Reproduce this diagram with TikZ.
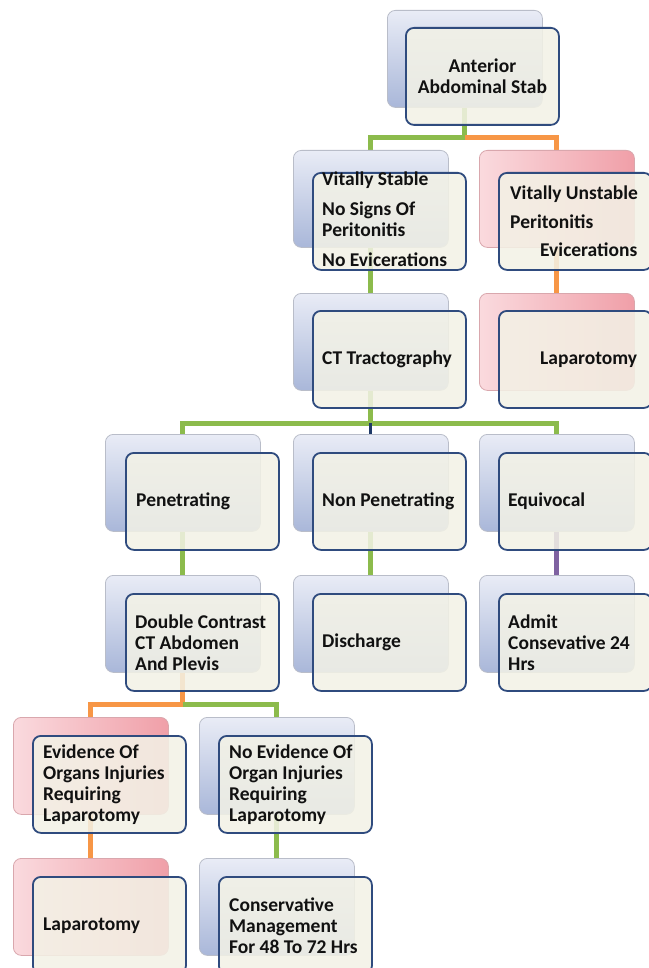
\documentclass[tikz,border=0pt]{standalone}
\usepackage{fontspec}
\setmainfont{Carlito}
\definecolor{bluetop}{HTML}{E9ECF6}
\definecolor{bluebot}{HTML}{A9B7D9}
\definecolor{bluebd}{HTML}{B9BDC9}
\definecolor{redtop}{HTML}{FADADE}
\definecolor{redbot}{HTML}{F09FA8}
\definecolor{redbd}{HTML}{D9A7AD}
\definecolor{cream}{HTML}{F3F2E6}
\definecolor{navy}{HTML}{2F4B7E}
\definecolor{lgreen}{HTML}{8CBB4C}
\definecolor{lorange}{HTML}{F79646}
\definecolor{lpurple}{HTML}{7F62A1}
\definecolor{ldark}{HTML}{1F3A68}
\definecolor{textc}{HTML}{111111}
\pgfdeclarelayer{bg}
\pgfsetlayers{bg,main}
\tikzset{
  backbox/.style={rectangle, rounded corners=8pt, minimum width=155pt, minimum height=97pt,
    anchor=north west, inner sep=0pt, line width=0.8pt},
  bluebk/.style={backbox, top color=bluetop, bottom color=bluebot, draw=bluebd},
  redbk/.style={backbox, shading angle=-120, left color=redtop, right color=redbot, draw=redbd},
  frontbox/.style={rectangle, rounded corners=8pt, draw=navy, line width=1.8pt, fill=cream,
    fill opacity=0.86, minimum width=153pt, minimum height=97pt, anchor=north west, inner sep=0pt},
  txt/.style={anchor=west, align=left, inner sep=0pt, text=textc,
    font=\bfseries\fontsize{19.5}{21}\selectfont},
  ctxt/.style={txt, anchor=center, align=center},
  gline/.style={draw=lgreen, line width=5pt},
  oline/.style={draw=lorange, line width=5pt},
  pline/.style={draw=lpurple, line width=5pt},
  nline/.style={draw=ldark, line width=3pt},
}
\begin{document}
\begin{tikzpicture}[x=1pt,y=-1pt]
\useasboundingbox (0,0) rectangle (648,968);
% row 0
\node[bluebk] (aB) at (387,10) {};
\node[frontbox] (a) at (405,27) {};
\node[ctxt] (ta) at (a.center) {Anterior\\Abdominal Stab};
% row 1
\node[bluebk] (sB) at (293,150) {};
\node[frontbox] (s) at (312,172) {};
\node[txt] (ts) at ([xshift=10pt,yshift=2pt]s.west) {Vitally Stable\\[9pt]No Signs Of\\Peritonitis\\[9pt]No Evicerations};
\node[redbk] (uB) at (479,150) {};
\node[frontbox] (u) at (498,172) {};
\node[txt] (tu) at ([xshift=12pt]u.west) {Vitally Unstable\\[7.5pt]Peritonitis\\[7.5pt]\hspace*{30pt}Evicerations};
% row 2
\node[bluebk] (ctB) at (293,293) {};
\node[frontbox] (ct) at (312,310) {};
\node[txt] (tct) at ([xshift=10pt]ct.west) {CT Tractography};
\node[redbk] (lpB) at (479,293) {};
\node[frontbox] (lp) at (498,310) {};
\node[txt] (tlp) at ([xshift=42pt]lp.west) {Laparotomy};
% row 3
\node[bluebk] (pB) at (105,434) {};
\node[frontbox] (p) at (125,452) {};
\node[txt] (tp) at ([xshift=11pt]p.west) {Penetrating};
\node[bluebk] (npB) at (293,434) {};
\node[frontbox] (np) at (312,452) {};
\node[txt] (tnp) at ([xshift=10pt]np.west) {Non Penetrating};
\node[bluebk] (eqB) at (479,434) {};
\node[frontbox] (eq) at (498,452) {};
\node[txt] (teq) at ([xshift=10pt]eq.west) {Equivocal};
% row 4
\node[bluebk] (dcB) at (105,575) {};
\node[frontbox] (dc) at (125,593) {};
\node[txt] (tdc) at ([xshift=10pt]dc.west) {Double Contrast\\CT Abdomen\\And Plevis};
\node[bluebk] (diB) at (293,575) {};
\node[frontbox] (di) at (312,593) {};
\node[txt] (tdi) at ([xshift=10pt]di.west) {Discharge};
\node[bluebk] (adB) at (479,575) {};
\node[frontbox] (ad) at (498,593) {};
\node[txt] (tad) at ([xshift=10pt]ad.west) {Admit\\Consevative 24\\Hrs};
% row 5
\node[redbk] (evB) at (13,717) {};
\node[frontbox] (ev) at (32,735) {};
\node[txt] (tev) at ([xshift=11pt]ev.west) {Evidence Of\\Organs Injuries\\Requiring\\Laparotomy};
\node[bluebk] (neB) at (199,717) {};
\node[frontbox] (ne) at (218,735) {};
\node[txt] (tne) at ([xshift=11pt]ne.west) {No Evidence Of\\Organ Injuries\\Requiring\\Laparotomy};
% row 6
\node[redbk] (l2B) at (13,858) {};
\node[frontbox] (l2) at (32,876) {};
\node[txt] (tl2) at ([xshift=11pt]l2.west) {Laparotomy};
\node[bluebk] (coB) at (199,858) {};
\node[frontbox] (co) at (218,876) {};
\node[txt] (tco) at ([xshift=11pt]co.west) {Conservative\\Management\\For 48 To 72 Hrs};
% connectors
\begin{pgfonlayer}{bg}
\fill[white] (0,0) rectangle (648,968);
\coordinate (j1) at (aB.south |- 0,138);
\coordinate (j2) at (ctB.south |- 0,423);
\coordinate (j3) at (dcB.south |- 0,704);
\draw[gline] (aB.south) -- (j1) -| (sB.north);
\draw[oline] (j1) -| (uB.north);
\draw[gline] (sB.south) -- (ctB.north);
\draw[oline] (uB.south) -- (lpB.north);
\draw[gline] (ctB.south) -- (j2) -| (pB.north);
\draw[gline] (j2) -| (eqB.north);
\draw[nline] (j2) -- (npB.north);
\draw[gline] (pB.south) -- (dcB.north);
\draw[gline] (npB.south) -- (diB.north);
\draw[pline] (eqB.south) -- (adB.north);
\draw[oline] (dcB.south) -- (j3) -| (evB.north);
\draw[gline] (j3) -| (neB.north);
\draw[oline] (evB.south) -- (l2B.north);
\draw[gline] (neB.south) -- (coB.north);
\end{pgfonlayer}
\end{tikzpicture}
\end{document}
